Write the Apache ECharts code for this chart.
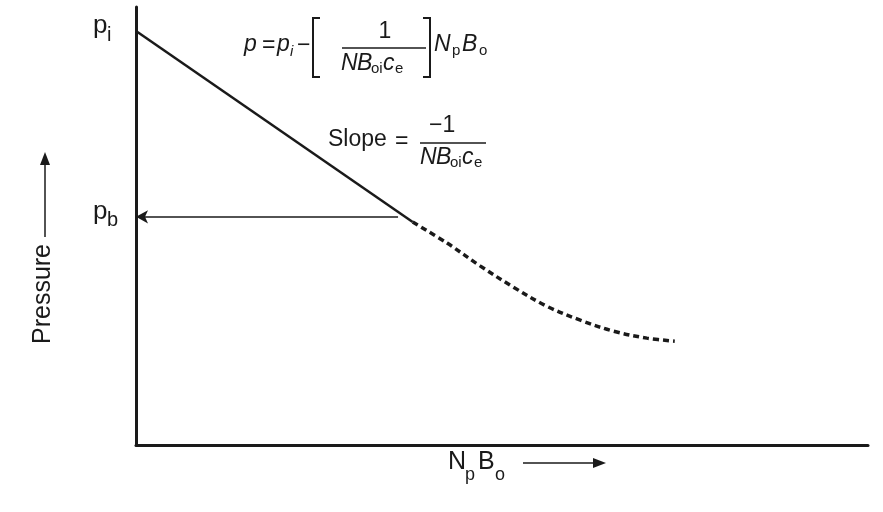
<!DOCTYPE html>
<html><head><meta charset="utf-8">
<script src="https://cdn.jsdelivr.net/npm/echarts@6/dist/echarts.min.js"></script>
<style>html,body{margin:0;padding:0;background:#fff}#c{width:883px;height:512px}</style>
</head><body><div id="c"></div>
<script>
// ---- data (abstract units: x = NpBo, y = pressure) ----
const xRange = [0, 100];
const yRange = [0, 100];
const linearPart = [[0, 94.5], [37.8, 50.9]];
const curvePart = [[37.8, 50.9], [42.5, 46.1], [47.0, 40.9], [51.5, 36.1], [56.1, 31.7], [60.7, 28.5], [65.2, 26.0], [69.8, 24.4], [73.6, 23.7]];
const bubblePointArrow = [[35.8, 52.1], [0, 52.1]];
const yTickLabels = [{ value: 94.5, main: 'p', sub: 'i' }, { value: 52.1, main: 'p', sub: 'b' }];
const xTitle = { main1: 'N', sub1: 'p', main2: 'B', sub2: 'o' };
const yTitle = 'Pressure';

const INK = '#1a1a1a';
const FF = "'Liberation Sans', Arial, Helvetica, sans-serif";

const chart = echarts.init(document.getElementById('c'));

function T(x, y, text, size, italic, opts) {
  return Object.assign({
    type: 'text', x: x, y: y, silent: true,
    style: Object.assign({
      text: text, fontSize: size, fontFamily: FF, fontStyle: italic ? 'italic' : 'normal',
      fill: INK, align: 'left', verticalAlign: 'middle'
    }, (opts && opts.style) || {})
  }, (opts && opts.el) || {});
}
function L(x1, y1, x2, y2, w) {
  return { type: 'line', silent: true, shape: { x1, y1, x2, y2 }, style: { stroke: INK, lineWidth: w || 1.5 } };
}
function PL(points, w) {
  return { type: 'polyline', silent: true, shape: { points }, style: { stroke: INK, fill: null, lineWidth: w || 2 } };
}
function PG(points) {
  return { type: 'polygon', silent: true, shape: { points }, style: { fill: INK, stroke: null } };
}

chart.setOption({
  animation: false,
  backgroundColor: '#fff',
  grid: { left: 136, right: 15, top: 7, bottom: 67, containLabel: false },
  xAxis: {
    type: 'value', min: xRange[0], max: xRange[1],
    axisLine: { show: true, lineStyle: { color: INK, width: 3 } },
    axisTick: { show: false }, axisLabel: { show: false }, splitLine: { show: false }
  },
  yAxis: {
    type: 'value', min: yRange[0], max: yRange[1],
    axisLine: { show: true, lineStyle: { color: INK, width: 3 } },
    axisTick: { show: false }, axisLabel: { show: false }, splitLine: { show: false }
  },
  series: [
    {
      type: 'line', data: linearPart, symbol: 'none', silent: true,
      lineStyle: { color: INK, width: 2.5 },
      markLine: {
        silent: true, symbol: ['none', 'arrow'], symbolSize: [10, 12], label: { show: false },
        lineStyle: { type: 'solid', color: INK, width: 1.5 },
        data: [[{ coord: bubblePointArrow[0] }, { coord: bubblePointArrow[1] }]]
      }
    },
    {
      type: 'line', data: curvePart, symbol: 'none', silent: true, smooth: 0.35,
      lineStyle: { color: INK, width: 3.5, type: [6, 4], cap: 'butt' }
    }
  ]
});

// positions of y tick labels through the axis scale
const g = [];
yTickLabels.forEach(t => {
  const p = chart.convertToPixel({ gridIndex: 0 }, [0, t.value]);
  g.push(T(p[0] - 43, p[1] - 5, t.main, 26, false));
  g.push(T(p[0] - 29, p[1] + 4, t.sub, 20, false));
});

// axis titles
g.push(T(43, 294, yTitle, 25, false, { el: { rotation: Math.PI / 2 }, style: { align: 'center' } }));
g.push(L(45, 237, 45, 162, 1.5));
g.push(PG([[45, 152], [40, 165], [50, 165]]));

g.push(T(448, 462, xTitle.main1, 25, false));
g.push(T(465, 475, xTitle.sub1, 18, false));
g.push(T(478, 462, xTitle.main2, 25, false));
g.push(T(495, 475, xTitle.sub2, 18, false));
g.push(L(523, 463, 595, 463, 1.5));
g.push(PG([[606, 463], [593, 458], [593, 468]]));

// equation: p = p_i - [1/(NB_oi c_e)] N_p B_o
const S = 23, s = 15;
const r = 45;
g.push(T(244, r, 'p', S, true));
g.push(T(262, r + 1, '=', S, false));
g.push(T(277, r, 'p', S, true));
g.push(T(290, r + 7, 'i', s, true));
g.push(T(297, r + 1, '\u2212', S, false));
g.push(PL([[320, 18], [313, 18], [313, 77], [320, 77]], 2));
g.push(T(385, 32, '1', S, false, { style: { align: 'center' } }));
g.push(L(342, 48, 426, 48, 1.5));
g.push(T(341, 64, 'N', S, true));
g.push(T(357, 64, 'B', S, true));
g.push(T(371, 69, 'oi', s, false));
g.push(T(383, 64, 'c', S, true));
g.push(T(395, 69, 'e', s, false));
g.push(PL([[423, 18], [430, 18], [430, 77], [423, 77]], 2));
g.push(T(434, r, 'N', S, true));
g.push(T(452, r + 6, 'p', s, false));
g.push(T(462, r, 'B', S, true));
g.push(T(479, r + 6, 'o', s, false));

// slope annotation
const q = 140;
g.push(T(328, q, 'Slope', S, false));
g.push(T(395, q + 2, '=', S, false));
g.push(T(429, 126, '\u22121', S, false));
g.push(L(420, 143, 486, 143, 1.5));
g.push(T(420, 158, 'N', S, true));
g.push(T(436, 158, 'B', S, true));
g.push(T(450, 163, 'oi', s, false));
g.push(T(462, 158, 'c', S, true));
g.push(T(474, 163, 'e', s, false));

chart.setOption({ graphic: g });
</script>
</body></html>
